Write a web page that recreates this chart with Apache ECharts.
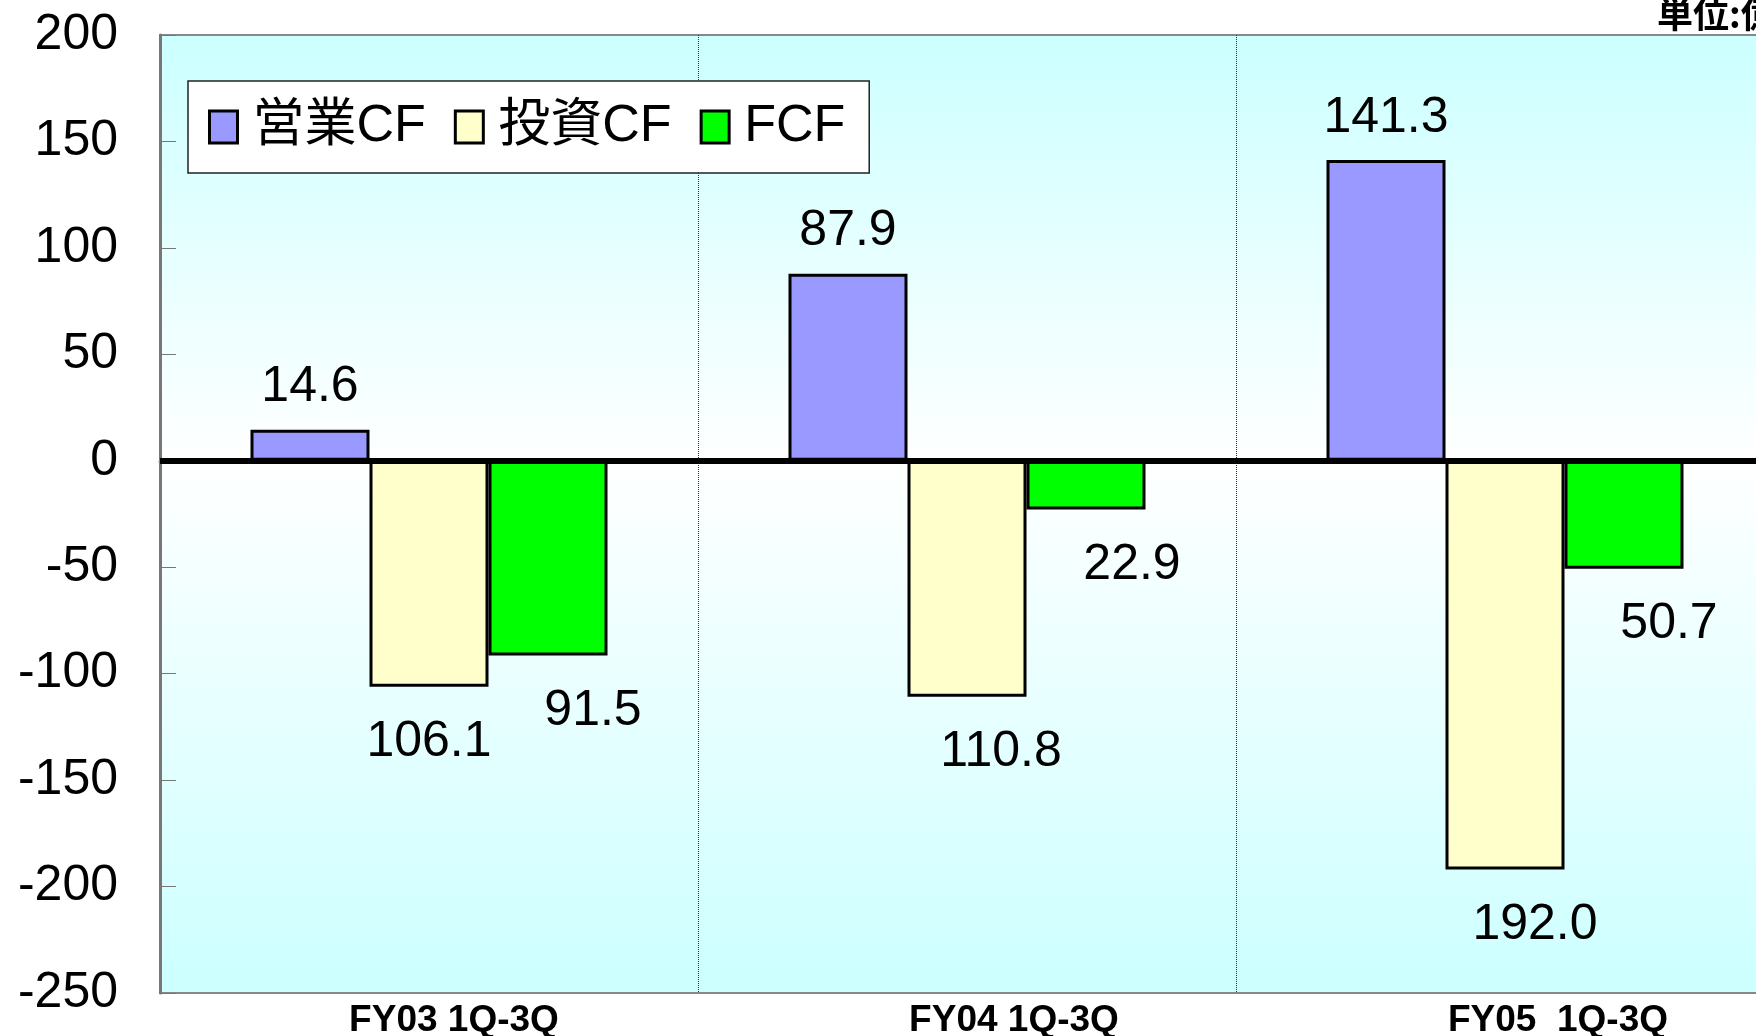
<!DOCTYPE html>
<html>
<head>
<meta charset="utf-8">
<title>CF</title>
<script src="https://cdn.jsdelivr.net/npm/echarts@6/dist/echarts.min.js"></script>
<style>
  html, body { margin: 0; padding: 0; background: #fff; }
  #chart { width: 1756px; height: 1036px; }
</style>
</head>
<body>
<div id="chart"></div>
<script>
// 期間
const categories = ['FY03 1Q-3Q', 'FY04 1Q-3Q', 'FY05  1Q-3Q']
const seriesNames = ['営業CF', '投資CF', 'FCF']
// 単位:億円
const operatingCF = [14.6, 87.9, 141.3]
const investingCF = [-106.1, -110.8, -192.0]
const freeCF = [-91.5, -22.9, -50.7]
const yTicks = { min: -250, max: 200, step: 50 }

// ラベルの横ずれ（見た目合わせ）
const labelShiftX = [[0, 0, 0], [0, 34, 30], [45, 46, 45]]
const catLabelPad = [50, 94, 106]

const numFont = '"Liberation Sans", Arial, sans-serif'
const jpFont = '"Liberation Sans", Arial, "Noto Sans CJK JP", sans-serif'

const chart = echarts.init(document.getElementById('chart'))

function makeSeries(name, values, color, idx) {
  return {
    name: name,
    type: 'bar',
    barWidth: 119,
    barGap: '0%',
    itemStyle: { color: color, borderColor: '#000', borderWidth: 3 },
    label: {
      show: true,
      position: 'outside',
      distance: 24,
      fontSize: 50,
      fontFamily: numFont,
      color: '#000',
      formatter: p => Math.abs(p.value).toFixed(1)
    },
    data: values.map((v, i) => ({
      value: v,
      label: { offset: [labelShiftX[idx][i], 7] }
    }))
  }
}

const series = [
  makeSeries(seriesNames[0], operatingCF, '#9999ff', 0),
  makeSeries(seriesNames[1], investingCF, '#ffffcc', 1),
  makeSeries(seriesNames[2], freeCF, '#00ff00', 2)
]
// ゼロライン
series[0].markLine = {
  silent: true,
  symbol: 'none',
  label: { show: false },
  lineStyle: { color: '#000', width: 6, type: 'solid' },
  data: [{ yAxis: 0 }]
}

const option = {
  animation: false,
  backgroundColor: '#fff',
  grid: {
    left: 160,
    top: 35,
    right: -18,
    bottom: 43,
    outerBoundsMode: 'none',
    containLabel: false,
    show: true,
    borderColor: '#888',
    borderWidth: 2,
    backgroundColor: {
      type: 'linear', x: 0, y: 0, x2: 0, y2: 1,
      colorStops: [
        { offset: 0, color: '#ccffff' },
        { offset: 0.445, color: '#ffffff' },
        { offset: 1, color: '#ccffff' }
      ]
    }
  },
  legend: {
    left: 188,
    top: 81,
    padding: [20, 24, 20, 20],
    itemGap: 28,
    itemWidth: 28,
    itemHeight: 32,
    icon: 'rect',
    backgroundColor: '#fff',
    borderColor: '#222',
    borderWidth: 1.5,
    itemStyle: { borderWidth: 3, borderColor: '#000' },
    textStyle: { fontSize: 52, fontFamily: jpFont, color: '#000', padding: [0, 0, 0, 10] },
    data: seriesNames
  },
  graphic: [{
    type: 'text',
    left: 1657,
    top: -4,
    style: { text: '単位:億円', font: 'bold 36px "Noto Sans CJK JP", sans-serif', fill: '#000' }
  }],
  xAxis: {
    type: 'category',
    data: categories.map((c, i) => ({ value: c, textStyle: { padding: [0, 0, 0, catLabelPad[i]] } })),
    axisLine: { lineStyle: { color: '#888', width: 3 } },
    axisTick: { show: false },
    axisLabel: { fontSize: 37, fontWeight: 'bold', fontFamily: numFont, color: '#000', margin: 9 },
    splitLine: { show: true, lineStyle: { color: '#333', width: 1, type: 'dotted' } }
  },
  yAxis: {
    type: 'value',
    min: yTicks.min,
    max: yTicks.max,
    interval: yTicks.step,
    axisLine: { show: true, lineStyle: { color: '#777', width: 3 } },
    axisTick: { show: true, inside: true, length: 16, lineStyle: { color: '#777', width: 1 } },
    axisLabel: { fontSize: 50, fontFamily: numFont, color: '#000', margin: 42 },
    splitLine: { show: false }
  },
  series: series
}

chart.setOption(option)
</script>
</body>
</html>
